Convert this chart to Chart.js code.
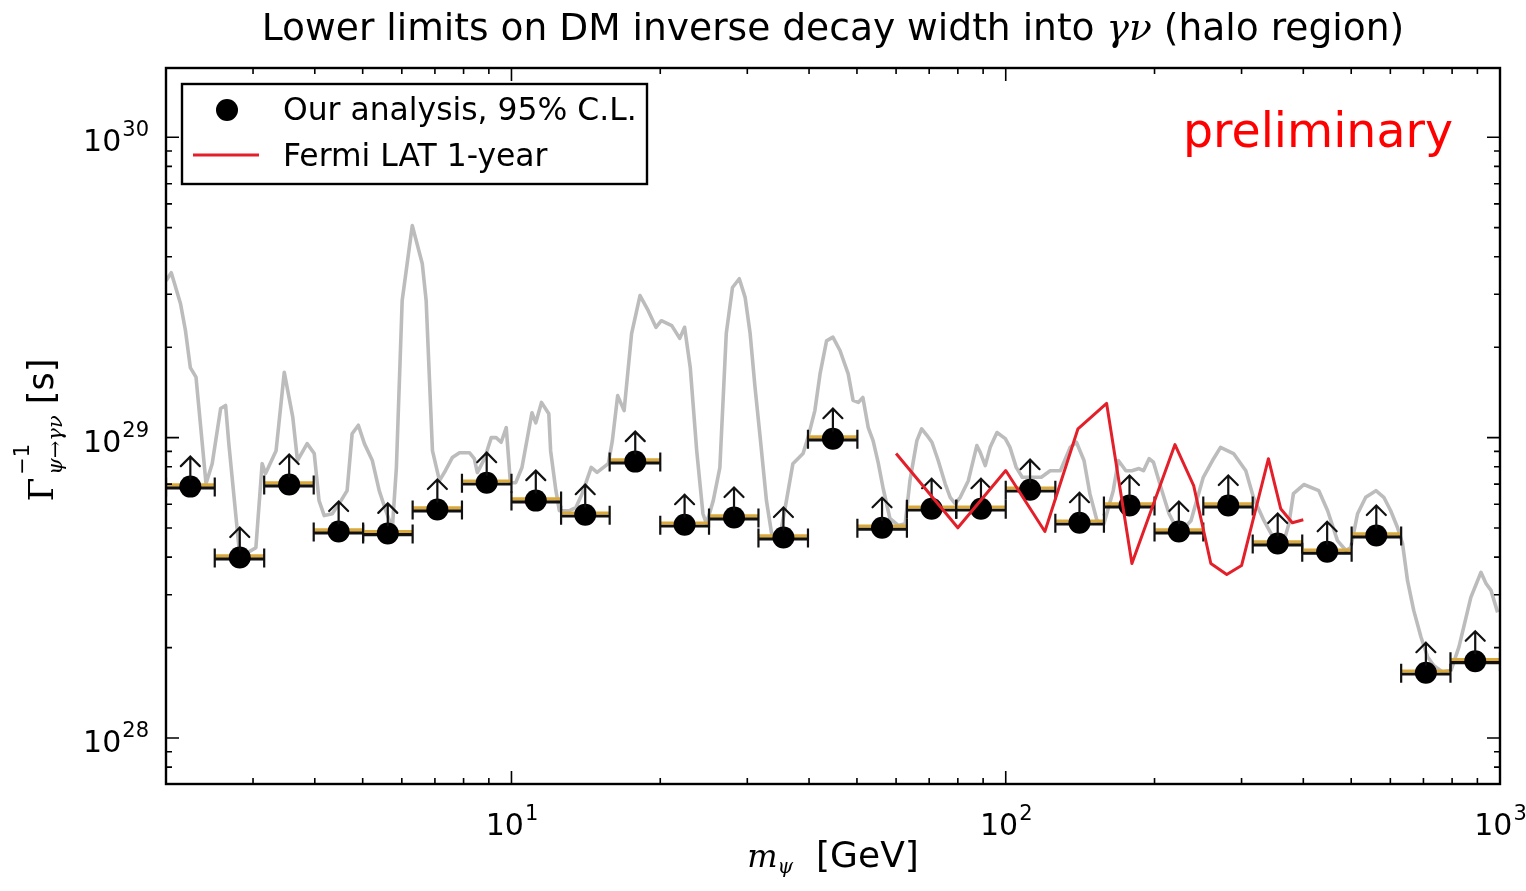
<!DOCTYPE html>
<html><head><meta charset="utf-8">
<script src="https://cdn.jsdelivr.net/npm/chart.js@4.4.0/dist/chart.umd.min.js"></script>
<style>html,body{margin:0;padding:0;background:#fff;}#wrap{width:1526px;height:891px;}</style>
</head><body><div id="wrap"><canvas id="c" width="1526" height="891"></canvas></div>
<script>
// ---- data ----
const massCenters = [2.24, 2.82, 3.55, 4.47, 5.62, 7.08, 8.91, 11.2, 14.1, 17.8, 22.4, 28.2, 35.5, 44.7, 56.2, 70.8, 89.1, 112, 141, 178, 224, 282, 355, 447, 562, 708, 891];
const binEdges = [2.00, 2.51, 3.16, 3.98, 5.01, 6.31, 7.94, 10.0, 12.6, 15.8, 20.0, 25.1, 31.6, 39.8, 50.1, 63.1, 79.4, 100, 126, 158, 200, 251, 316, 398, 501, 631, 794, 1000];
const limits = [6.87e28, 3.99e28, 6.98e28, 4.87e28, 4.80e28, 5.76e28, 7.08e28, 6.17e28, 5.54e28, 8.32e28, 5.13e28, 5.42e28, 4.65e28, 9.92e28, 5.01e28, 5.80e28, 5.80e28, 6.71e28, 5.21e28, 5.94e28, 4.87e28, 5.94e28, 4.44e28, 4.17e28, 4.72e28, 1.65e28, 1.80e28];

const fermiMass = [60, 80, 100, 120, 140, 160, 180, 220, 240, 260, 280, 300, 340, 360, 380, 400];
const fermiLimit = [8.85e28, 5.01e28, 7.77e28, 4.87e28, 1.07e29, 1.30e29, 3.81e28, 9.48e28, 6.92e28, 3.81e28, 3.50e28, 3.75e28, 8.51e28, 5.80e28, 5.21e28, 5.33e28];

const scanMass = [2.00, 2.05, 2.14, 2.19, 2.24, 2.30, 2.41, 2.48, 2.58, 2.64, 2.68, 2.81, 2.90, 3.04, 3.13, 3.18, 3.34, 3.47, 3.61, 3.69, 3.86, 3.99, 4.08, 4.18, 4.34, 4.52, 4.65, 4.76, 4.90, 5.04, 5.23, 5.40, 5.57, 5.74, 5.85, 6.01, 6.30, 6.60, 6.72, 6.92, 7.15, 7.35, 7.59, 7.85, 8.22, 8.41, 8.53, 8.82, 9.10, 9.31, 9.53, 9.76, 9.95, 10.2, 10.5, 11.0, 11.2, 11.5, 11.9, 12.0, 12.3, 12.5, 13.1, 13.5, 13.9, 14.5, 14.9, 15.7, 16.0, 16.4, 16.9, 17.5, 18.2, 18.9, 19.6, 20.1, 21.1, 21.9, 22.4, 23.0, 23.7, 24.4, 24.8, 25.6, 26.4, 27.2, 28.0, 28.9, 29.7, 30.4, 31.1, 31.8, 32.8, 33.6, 34.9, 36.0, 37.1, 38.9, 39.8, 41.1, 42.1, 43.4, 44.7, 46.2, 48.0, 49.1, 50.3, 51.4, 52.7, 53.9, 55.2, 56.5, 58.3, 60.6, 62.6, 64.0, 66.1, 67.6, 69.2, 70.9, 73.0, 75.4, 77.2, 79.0, 80.9, 84.0, 87.4, 88.8, 90.9, 93.0, 96.0, 99.8, 102, 105, 108, 112, 118, 123, 129, 135, 139, 144, 148, 153, 158, 165, 169, 175, 180, 186, 190, 195, 199, 207, 214, 221, 229, 237, 251, 262, 272, 289, 306, 317, 333, 346, 365, 374, 382, 401, 430, 448, 469, 488, 499, 515, 535, 561, 582, 601, 620, 635, 650, 669, 692, 714, 735, 765, 796, 826, 873, 915, 937, 959, 989];
const scanLimit = [3.33e29, 3.54e29, 2.79e29, 2.27e29, 1.71e29, 1.59e29, 7.03e28, 8.19e28, 1.25e29, 1.28e29, 9.55e28, 4.30e28, 4.11e28, 4.30e28, 8.19e28, 7.59e28, 9.05e28, 1.65e29, 1.17e29, 8.39e28, 9.55e28, 8.85e28, 6.17e28, 5.50e28, 5.58e28, 6.17e28, 6.66e28, 1.03e29, 1.10e29, 9.55e28, 8.39e28, 6.66e28, 5.71e28, 4.98e28, 7.95e28, 2.86e29, 5.08e29, 3.79e29, 2.86e29, 9.05e28, 7.19e28, 7.76e28, 8.58e28, 8.91e28, 8.91e28, 8.51e28, 7.65e28, 8.51e28, 1.00e29, 1.00e29, 9.65e28, 1.08e29, 7.08e28, 7.08e28, 7.95e28, 1.21e29, 1.12e29, 1.31e29, 1.20e29, 9.05e28, 6.66e28, 5.71e28, 5.71e28, 5.85e28, 6.51e28, 7.96e28, 7.66e28, 8.19e28, 9.77e28, 1.38e29, 1.23e29, 2.22e29, 2.97e29, 2.65e29, 2.33e29, 2.45e29, 2.36e29, 2.14e29, 2.33e29, 1.71e29, 9.05e28, 5.58e28, 5.17e28, 6.17e28, 7.95e28, 2.22e29, 3.16e29, 3.38e29, 2.93e29, 2.22e29, 1.47e29, 1.03e29, 6.17e28, 4.79e28, 4.65e28, 6.17e28, 8.19e28, 8.85e28, 1.00e29, 1.23e29, 1.63e29, 2.10e29, 2.16e29, 1.95e29, 1.63e29, 1.33e29, 1.31e29, 1.36e29, 1.08e29, 9.77e28, 8.26e28, 6.77e28, 5.38e28, 5.10e28, 5.17e28, 7.19e28, 9.77e28, 1.07e29, 1.02e29, 9.65e28, 8.39e28, 7.03e28, 6.33e28, 6.03e28, 6.33e28, 7.19e28, 9.41e28, 8.93e28, 8.07e28, 9.28e28, 1.04e29, 9.92e28, 9.28e28, 7.96e28, 7.38e28, 7.38e28, 7.38e28, 7.76e28, 7.76e28, 9.28e28, 9.65e28, 8.39e28, 6.51e28, 5.29e28, 5.17e28, 6.66e28, 8.39e28, 7.76e28, 7.76e28, 7.89e28, 7.76e28, 8.51e28, 8.28e28, 6.66e28, 5.58e28, 5.03e28, 4.98e28, 5.29e28, 7.38e28, 8.39e28, 9.28e28, 8.85e28, 7.76e28, 6.33e28, 5.29e28, 4.72e28, 4.48e28, 5.17e28, 6.51e28, 6.98e28, 6.66e28, 5.71e28, 4.54e28, 4.21e28, 4.31e28, 5.58e28, 6.33e28, 6.66e28, 6.33e28, 5.71e28, 5.03e28, 4.44e28, 3.34e28, 2.66e28, 2.17e28, 1.86e28, 1.74e28, 1.66e28, 1.68e28, 2.01e28, 2.94e28, 3.56e28, 3.27e28, 3.10e28, 2.62e28];

const xMajorTicks = [10, 100, 1000];
const xTickExponents = ['1', '2', '3'];
const yMajorTicks = [1e28, 1e29, 1e30];
const yTickExponents = ['28', '29', '30'];

const titleParts = ['Lower limits on DM inverse decay width into ', 'γν', ' (halo region)'];
const legendLabels = ['Our analysis, 95% C.L.', 'Fermi LAT 1-year'];

// ---- drawing helpers ----
const SANS = '"DejaVu Sans", "Bitstream Vera Sans", sans-serif';
const SERIF = '"DejaVu Serif", serif';

function pts(xs, ys) { return xs.map((x, i) => ({x: x, y: ys[i]})); }

const decor = {
  id: 'decor',
  beforeDatasetDraw(chart, args) {
    if (args.index !== 1) return;
    const c = chart.ctx, xs = chart.scales.x, ys = chart.scales.y, a = chart.chartArea;
    c.save();
    c.beginPath(); c.rect(a.left, a.top, a.right - a.left, a.bottom - a.top); c.clip();
    limits.forEach((v, i) => {
      const y = ys.getPixelForValue(v);
      const xl = xs.getPixelForValue(binEdges[i]);
      const xr = xs.getPixelForValue(binEdges[i + 1]);
      c.lineCap = 'butt';
      c.strokeStyle = '#111'; c.lineWidth = 3.2;
      c.beginPath(); c.moveTo(xl, y + 1.3); c.lineTo(xr, y + 1.3); c.stroke();
      c.strokeStyle = '#dba93a'; c.lineWidth = 3;
      c.beginPath(); c.moveTo(xl, y - 1.8); c.lineTo(xr, y - 1.8); c.stroke();
      c.strokeStyle = '#111'; c.lineWidth = 2.2;
      c.beginPath(); c.moveTo(xl, y - 9); c.lineTo(xl, y + 10); c.moveTo(xr, y - 9); c.lineTo(xr, y + 10); c.stroke();
    });
    c.restore();
  },
  afterDatasetDraw(chart, args) {
    if (args.index !== 1) return;
    const c = chart.ctx, xs = chart.scales.x, ys = chart.scales.y;
    c.save();
    c.strokeStyle = '#111'; c.lineWidth = 2.2; c.lineCap = 'round'; c.lineJoin = 'miter';
    limits.forEach((v, i) => {
      const x = xs.getPixelForValue(massCenters[i]);
      const y = ys.getPixelForValue(v);
      c.beginPath();
      c.moveTo(x, y - 8); c.lineTo(x, y - 30);
      c.moveTo(x - 9.5, y - 20.5); c.lineTo(x, y - 30); c.lineTo(x + 9.5, y - 20.5);
      c.stroke();
    });
    c.restore();
  },
  afterDraw(chart) {
    const c = chart.ctx, xs = chart.scales.x, ys = chart.scales.y, a = chart.chartArea;
    c.save();
    // frame
    c.strokeStyle = '#000'; c.lineWidth = 2.4;
    c.strokeRect(a.left, a.top, a.right - a.left, a.bottom - a.top);
    // ticks
    c.lineWidth = 1.6;
    const xMinor = [], yMinor = [];
    [1, 10, 100].forEach(d => { for (let k = 2; k <= 9; k++) { const v = k * d; if (v > 2 && v < 1000) xMinor.push(v); } });
    [1e27, 1e28, 1e29].forEach(d => { for (let k = 2; k <= 9; k++) { const v = k * d; if (v > ys.min && v < ys.max) yMinor.push(v); } });
    c.beginPath();
    xMinor.forEach(v => { const x = xs.getPixelForValue(v); c.moveTo(x, a.bottom); c.lineTo(x, a.bottom - 6); c.moveTo(x, a.top); c.lineTo(x, a.top + 6); });
    xMajorTicks.forEach(v => { const x = xs.getPixelForValue(v); c.moveTo(x, a.bottom); c.lineTo(x, a.bottom - 13); c.moveTo(x, a.top); c.lineTo(x, a.top + 13); });
    yMinor.forEach(v => { const y = ys.getPixelForValue(v); c.moveTo(a.left, y); c.lineTo(a.left + 6, y); c.moveTo(a.right, y); c.lineTo(a.right - 6, y); });
    yMajorTicks.forEach(v => { const y = ys.getPixelForValue(v); c.moveTo(a.left, y); c.lineTo(a.left + 13, y); c.moveTo(a.right, y); c.lineTo(a.right - 13, y); });
    c.stroke();

    // tick labels
    c.fillStyle = '#000'; c.textBaseline = 'alphabetic';
    const baseF = '30px ' + SANS, supF = '21px ' + SANS;
    xMajorTicks.forEach((v, i) => {
      const x = xs.getPixelForValue(v);
      c.font = baseF; const w1 = c.measureText('10').width;
      c.font = supF; const w2 = c.measureText(xTickExponents[i]).width;
      const x0 = x - (w1 + w2) / 2;
      c.font = baseF; c.textAlign = 'left'; c.fillText('10', x0, a.bottom + 51);
      c.font = supF; c.fillText(xTickExponents[i], x0 + w1 + 1, a.bottom + 36);
    });
    yMajorTicks.forEach((v, i) => {
      const y = ys.getPixelForValue(v);
      c.font = supF; const w2 = c.measureText(yTickExponents[i]).width;
      c.font = baseF; const w1 = c.measureText('10').width;
      const xr = a.left - 17;
      c.textAlign = 'left';
      c.font = baseF; c.fillText('10', xr - w2 - w1 - 1, y + 14);
      c.font = supF; c.fillText(yTickExponents[i], xr - w2, y - 1);
    });

    // title
    const tF = ['37.6px ' + SANS, 'italic 37.6px ' + SERIF, '37.6px ' + SANS];
    let tw = 0; const tws = titleParts.map((s, i) => { c.font = tF[i]; const w = c.measureText(s).width; tw += w; return w; });
    let tx = (a.left + a.right) / 2 - tw / 2;
    c.textAlign = 'left';
    titleParts.forEach((s, i) => { c.font = tF[i]; c.fillText(s, tx, 40); tx += tws[i]; });

    // x axis label
    {
      const parts = [['m', 'italic 32px ' + SERIF, 0], ['ψ', 'italic 20px ' + SERIF, 6], ['  [GeV]', '36px ' + SANS, 0]];
      let w = 0; const ws = parts.map(p => { c.font = p[1]; const m = c.measureText(p[0]).width; w += m; return m; });
      let x = (a.left + a.right) / 2 - w / 2;
      parts.forEach((p, i) => { c.font = p[1]; c.fillText(p[0], x, 867 + p[2]); x += ws[i]; });
    }
    // y axis label (rotated)
    {
      c.save();
      c.translate(53, 430); c.rotate(-Math.PI / 2);
      const gF = '34px ' + SERIF, supYF = '21px ' + SANS, subF = 'italic 21px ' + SERIF, sF = '35px ' + SANS;
      c.font = gF; const wg = c.measureText('Γ').width;
      c.font = supYF; const wsup = c.measureText('−1').width;
      c.font = subF; const wsub = c.measureText('ψ→γν').width;
      c.font = sF; const ws = c.measureText(' [s]').width;
      const total = wg + 3 + Math.max(wsup, wsub) + ws;
      let x = -total / 2;
      c.font = gF; c.fillText('Γ', x, 0); x += wg + 3;
      c.font = supYF; c.fillText('−1', x, -24);
      c.font = subF; c.fillText('ψ→γν', x, 9);
      x += Math.max(wsup, wsub);
      c.font = sF; c.fillText(' [s]', x, 0);
      c.restore();
    }

    // legend
    c.fillStyle = '#fff'; c.fillRect(182, 84, 465, 100);
    c.strokeStyle = '#000'; c.lineWidth = 2.4; c.strokeRect(182, 84, 465, 100);
    c.fillStyle = '#000';
    c.beginPath(); c.arc(227, 110, 11, 0, Math.PI * 2); c.fill();
    c.strokeStyle = '#e3202a'; c.lineWidth = 3;
    c.beginPath(); c.moveTo(193, 155); c.lineTo(259, 155); c.stroke();
    c.font = '31.4px ' + SANS; c.textAlign = 'left'; c.fillStyle = '#000';
    c.fillText(legendLabels[0], 283, 120);
    c.fillText(legendLabels[1], 283, 166);

    // preliminary
    c.fillStyle = '#ff0000'; c.font = '47.4px ' + SANS;
    c.fillText('preliminary', 1183, 147);
    c.restore();
  }
};

new Chart(document.getElementById('c').getContext('2d'), {
  type: 'scatter',
  data: {
    datasets: [
      { label: 'scan', type: 'line', data: pts(scanMass, scanLimit), borderColor: '#bcbcbc', borderWidth: 3.6, pointRadius: 0, fill: false, tension: 0, order: 2, borderJoinStyle: 'round' },
      { label: legendLabels[0], data: pts(massCenters, limits), pointRadius: 11, pointHoverRadius: 11, backgroundColor: '#000', borderColor: '#000', borderWidth: 0, order: 1 },
      { label: legendLabels[1], type: 'line', data: pts(fermiMass, fermiLimit), borderColor: '#e3202a', borderWidth: 3, pointRadius: 0, fill: false, tension: 0, order: 0, borderJoinStyle: 'round' }
    ]
  },
  options: {
    responsive: false, animation: false, devicePixelRatio: 1,
    layout: { padding: { top: 68, right: 26, left: 0, bottom: 0 } },
    plugins: { legend: { display: false }, tooltip: { enabled: false }, title: { display: false } },
    scales: {
      x: { type: 'logarithmic', min: 2, max: 1000, grid: { display: false }, border: { display: false }, ticks: { display: false }, afterFit(s) { s.height = 107; } },
      y: { type: 'logarithmic', min: 7.03e27, max: 1.70e30, grid: { display: false }, border: { display: false }, ticks: { display: false }, afterFit(s) { s.width = 166; } }
    }
  },
  plugins: [decor]
});
</script>
</body></html>
